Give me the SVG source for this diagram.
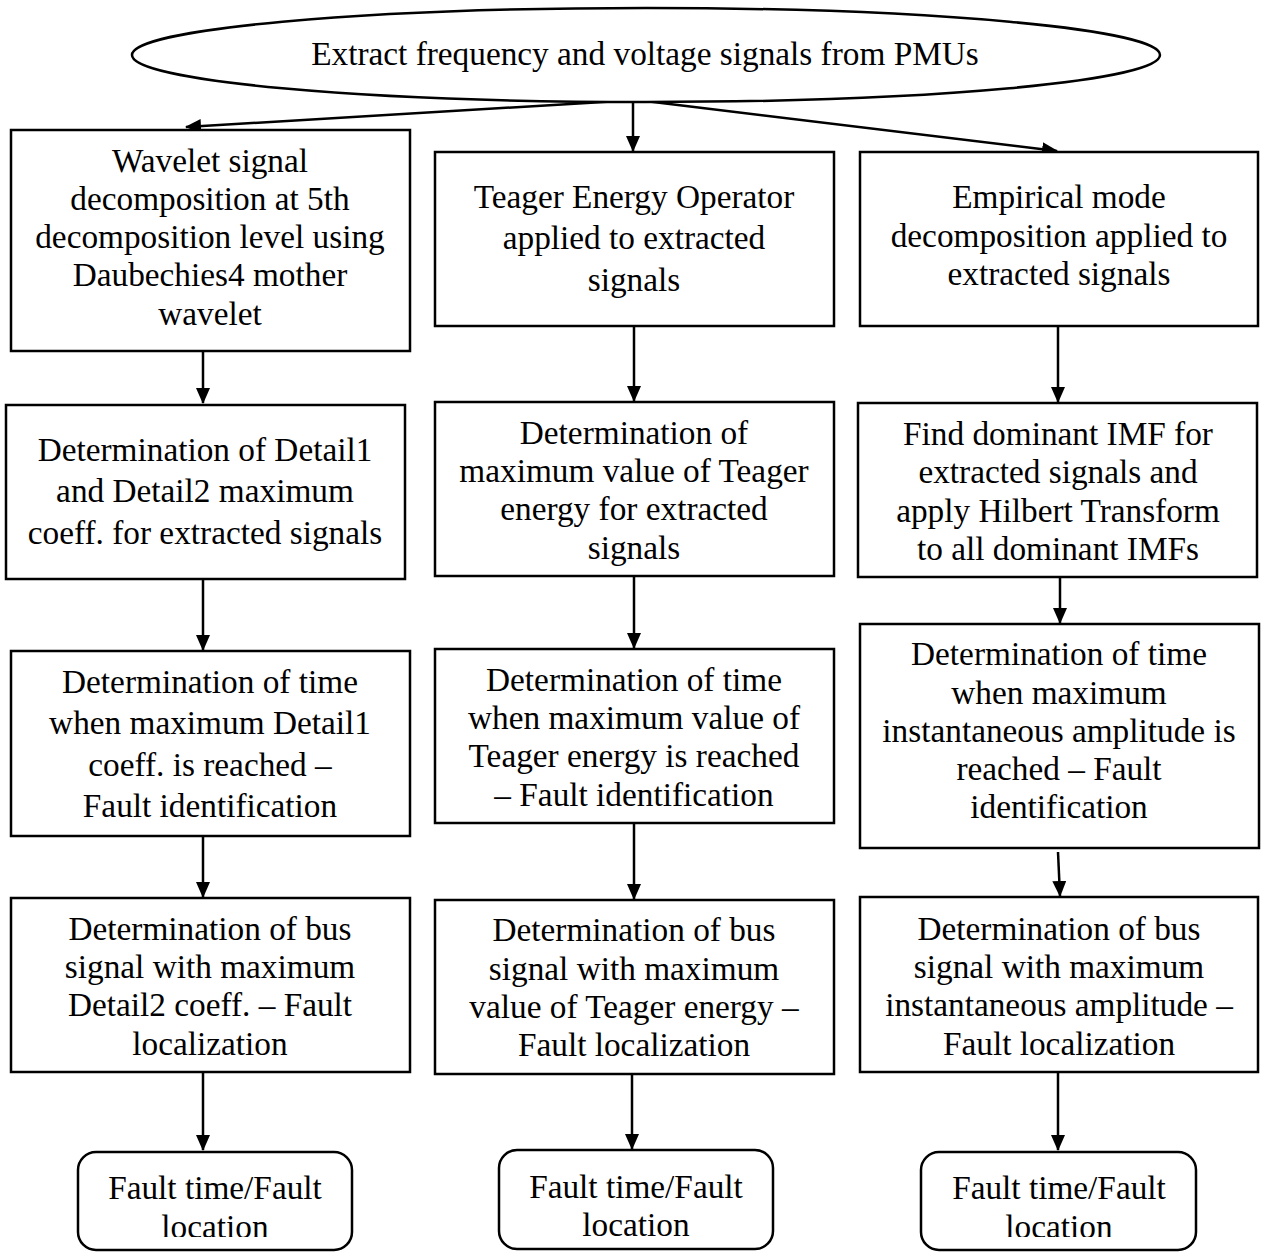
<svg xmlns="http://www.w3.org/2000/svg" width="1262" height="1252" viewBox="0 0 1262 1252">
<defs>
<style>
.box{fill:#fff;stroke:#000;stroke-width:2.5}
.t{font-family:"Liberation Serif","Times New Roman",serif;font-size:33.3px;fill:#000;text-anchor:middle}
.c{stroke:#000;stroke-width:2.5;fill:none}
</style>
<marker id="ah" markerWidth="16" markerHeight="14" refX="15" refY="7" orient="auto" markerUnits="userSpaceOnUse">
<path d="M0,0 L16,7 L0,14 Z" fill="#000"/>
</marker>
<clipPath id="cl"><rect x="0" y="0" width="1262" height="1237"/></clipPath>
</defs>
<rect width="1262" height="1252" fill="#fff"/>
<g id="connectors">
<line class="c" x1="620" y1="101" x2="186" y2="127" marker-end="url(#ah)"/>
<line class="c" x1="633" y1="102" x2="633" y2="151" marker-end="url(#ah)"/>
<line class="c" x1="645" y1="101" x2="1057" y2="151" marker-end="url(#ah)"/>
<line class="c" x1="203" y1="351" x2="203" y2="403" marker-end="url(#ah)"/>
<line class="c" x1="203" y1="579" x2="203" y2="650" marker-end="url(#ah)"/>
<line class="c" x1="203" y1="836" x2="203" y2="897" marker-end="url(#ah)"/>
<line class="c" x1="203" y1="1072" x2="203" y2="1150" marker-end="url(#ah)"/>
<line class="c" x1="634" y1="326" x2="634" y2="401" marker-end="url(#ah)"/>
<line class="c" x1="634" y1="576" x2="634" y2="648" marker-end="url(#ah)"/>
<line class="c" x1="634" y1="823" x2="634" y2="899" marker-end="url(#ah)"/>
<line class="c" x1="632" y1="1074" x2="632" y2="1149" marker-end="url(#ah)"/>
<line class="c" x1="1058" y1="326" x2="1058" y2="402" marker-end="url(#ah)"/>
<line class="c" x1="1060" y1="577" x2="1060" y2="623" marker-end="url(#ah)"/>
<line class="c" x1="1058" y1="852" x2="1060" y2="896" marker-end="url(#ah)"/>
<line class="c" x1="1058" y1="1072" x2="1058" y2="1150" marker-end="url(#ah)"/>
</g>
<g id="start">
<ellipse class="box" cx="646" cy="55" rx="514" ry="47"/>
<text class="t" x="645" y="65">Extract frequency and voltage signals from PMUs</text>
</g>
<g id="w1">
<rect class="box" x="11" y="130" width="399" height="221"/>
<text class="t"><tspan x="210" y="172">Wavelet signal</tspan><tspan x="210" y="210">decomposition at 5th</tspan><tspan x="210" y="248">decomposition level using</tspan><tspan x="210" y="286">Daubechies4 mother</tspan><tspan x="210" y="325">wavelet</tspan></text>
</g>
<g id="t1">
<rect class="box" x="435" y="152" width="399" height="174"/>
<text class="t"><tspan x="634" y="208">Teager Energy Operator</tspan><tspan x="634" y="249">applied to extracted</tspan><tspan x="634" y="291">signals</tspan></text>
</g>
<g id="e1">
<rect class="box" x="860" y="152" width="398" height="174"/>
<text class="t"><tspan x="1059" y="208">Empirical mode</tspan><tspan x="1059" y="247">decomposition applied to</tspan><tspan x="1059" y="285">extracted signals</tspan></text>
</g>
<g id="w2">
<rect class="box" x="6" y="405" width="399" height="174"/>
<text class="t"><tspan x="205" y="461">Determination of Detail1</tspan><tspan x="205" y="502">and Detail2 maximum</tspan><tspan x="205" y="544">coeff. for extracted signals</tspan></text>
</g>
<g id="t2">
<rect class="box" x="435" y="402" width="399" height="174"/>
<text class="t"><tspan x="634" y="444">Determination of</tspan><tspan x="634" y="482">maximum value of Teager</tspan><tspan x="634" y="520">energy for extracted</tspan><tspan x="634" y="559">signals</tspan></text>
</g>
<g id="e2">
<rect class="box" x="858" y="403" width="399" height="174"/>
<text class="t"><tspan x="1058" y="445">Find dominant IMF for</tspan><tspan x="1058" y="483">extracted signals and</tspan><tspan x="1058" y="522">apply Hilbert Transform</tspan><tspan x="1058" y="560">to all dominant IMFs</tspan></text>
</g>
<g id="w3">
<rect class="box" x="11" y="651" width="399" height="185"/>
<text class="t"><tspan x="210" y="693">Determination of time</tspan><tspan x="210" y="734">when maximum Detail1</tspan><tspan x="210" y="776">coeff. is reached –</tspan><tspan x="210" y="817">Fault identification</tspan></text>
</g>
<g id="t3">
<rect class="box" x="435" y="649" width="399" height="174"/>
<text class="t"><tspan x="634" y="691">Determination of time</tspan><tspan x="634" y="729">when maximum value of</tspan><tspan x="634" y="767">Teager energy is reached</tspan><tspan x="634" y="806">– Fault identification</tspan></text>
</g>
<g id="e3">
<rect class="box" x="860" y="624" width="399" height="224"/>
<text class="t"><tspan x="1059" y="665">Determination of time</tspan><tspan x="1059" y="704">when maximum</tspan><tspan x="1059" y="742">instantaneous amplitude is</tspan><tspan x="1059" y="780">reached – Fault</tspan><tspan x="1059" y="818">identification</tspan></text>
</g>
<g id="w4">
<rect class="box" x="11" y="898" width="399" height="174"/>
<text class="t"><tspan x="210" y="940">Determination of bus</tspan><tspan x="210" y="978">signal with maximum</tspan><tspan x="210" y="1016">Detail2 coeff. – Fault</tspan><tspan x="210" y="1055">localization</tspan></text>
</g>
<g id="t4">
<rect class="box" x="435" y="900" width="399" height="174"/>
<text class="t"><tspan x="634" y="941">Determination of bus</tspan><tspan x="634" y="980">signal with maximum</tspan><tspan x="634" y="1018">value of Teager energy –</tspan><tspan x="634" y="1056">Fault localization</tspan></text>
</g>
<g id="e4">
<rect class="box" x="860" y="897" width="398" height="175"/>
<text class="t"><tspan x="1059" y="940">Determination of bus</tspan><tspan x="1059" y="978">signal with maximum</tspan><tspan x="1059" y="1016">instantaneous amplitude –</tspan><tspan x="1059" y="1055">Fault localization</tspan></text>
</g>
<g id="r1">
<rect class="box" x="78" y="1152" width="274" height="98" rx="18"/>
<text class="t" clip-path="url(#cl)"><tspan x="215" y="1199">Fault time/Fault</tspan><tspan x="215" y="1238">location</tspan></text>
</g>
<g id="r2">
<rect class="box" x="499" y="1150" width="274" height="99" rx="18"/>
<text class="t" clip-path="url(#cl)"><tspan x="636" y="1198">Fault time/Fault</tspan><tspan x="636" y="1236">location</tspan></text>
</g>
<g id="r3">
<rect class="box" x="921" y="1152" width="275" height="98" rx="18"/>
<text class="t" clip-path="url(#cl)"><tspan x="1059" y="1199">Fault time/Fault</tspan><tspan x="1059" y="1238">location</tspan></text>
</g>
</svg>
